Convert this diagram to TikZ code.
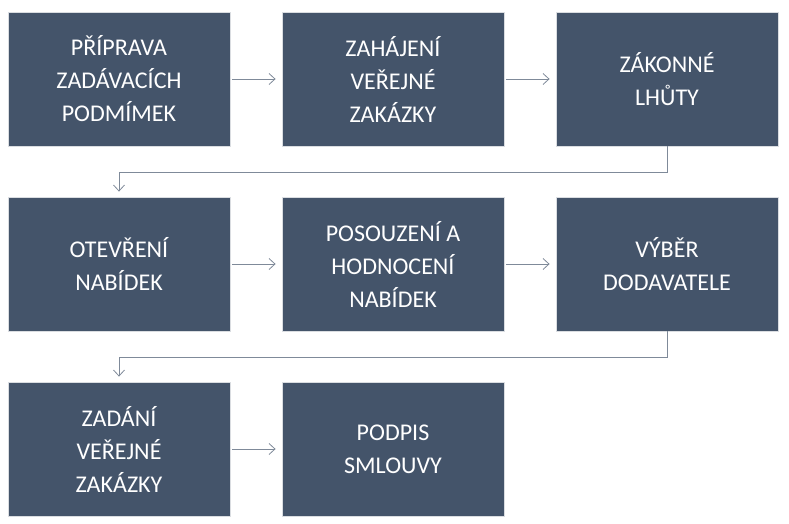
\documentclass[tikz,border=0pt]{standalone}
\usepackage{fontspec}
\setmainfont{Carlito}
\usetikzlibrary{arrows.meta}
\definecolor{boxc}{HTML}{44546A}
\definecolor{linec}{HTML}{7F8A99}
\begin{document}
\begin{tikzpicture}[x=1pt,y=-1pt,
  box/.style={fill=boxc,draw=white!80!boxc,line width=0.8pt,minimum width=222pt,minimum height=134pt,inner sep=0pt,text=white,align=center,font=\fontsize{24}{33}\selectfont},
  conn/.style={draw=linec,line width=0.8pt,-{Straight Barb[length=6pt,width=11pt]}}]
\useasboundingbox (0,0) rectangle (789,524);
\node[box] (a) at (119,79) {PŘÍPRAVA\\ZADÁVACÍCH\\PODMÍMEK};
\node[box] (b) at (393,79) {ZAHÁJENÍ\\VEŘEJNÉ\\ZAKÁZKY};
\node[box] (c) at (667,79) {ZÁKONNÉ\\LHŮTY};
\node[box] (d) at (119,264) {OTEVŘENÍ\\NABÍDEK};
\node[box] (e) at (393,264) {POSOUZENÍ A\\HODNOCENÍ\\NABÍDEK};
\node[box] (f) at (667,264) {VÝBĚR\\DODAVATELE};
\node[box] (g) at (119,449) {ZADÁNÍ\\VEŘEJNÉ\\ZAKÁZKY};
\node[box] (h) at (393,449) {PODPIS\\SMLOUVY};
\coordinate (r1) at (0,172);
\coordinate (r2) at (0,357);
\draw[conn,shorten <=2pt,shorten >=6pt] (a) -- (b);
\draw[conn,shorten <=2pt,shorten >=6pt] (b) -- (c);
\draw[conn,shorten <=2pt,shorten >=6pt] (d) -- (e);
\draw[conn,shorten <=2pt,shorten >=6pt] (e) -- (f);
\draw[conn,shorten <=2pt,shorten >=6pt] (g) -- (h);
\draw[conn,shorten >=5pt] (c.south) |- (r1 -| c) -- (r1 -| d) -- (d.north);
\draw[conn,shorten >=5pt] (f.south) |- (r2 -| f) -- (r2 -| g) -- (g.north);
\end{tikzpicture}
\end{document}
